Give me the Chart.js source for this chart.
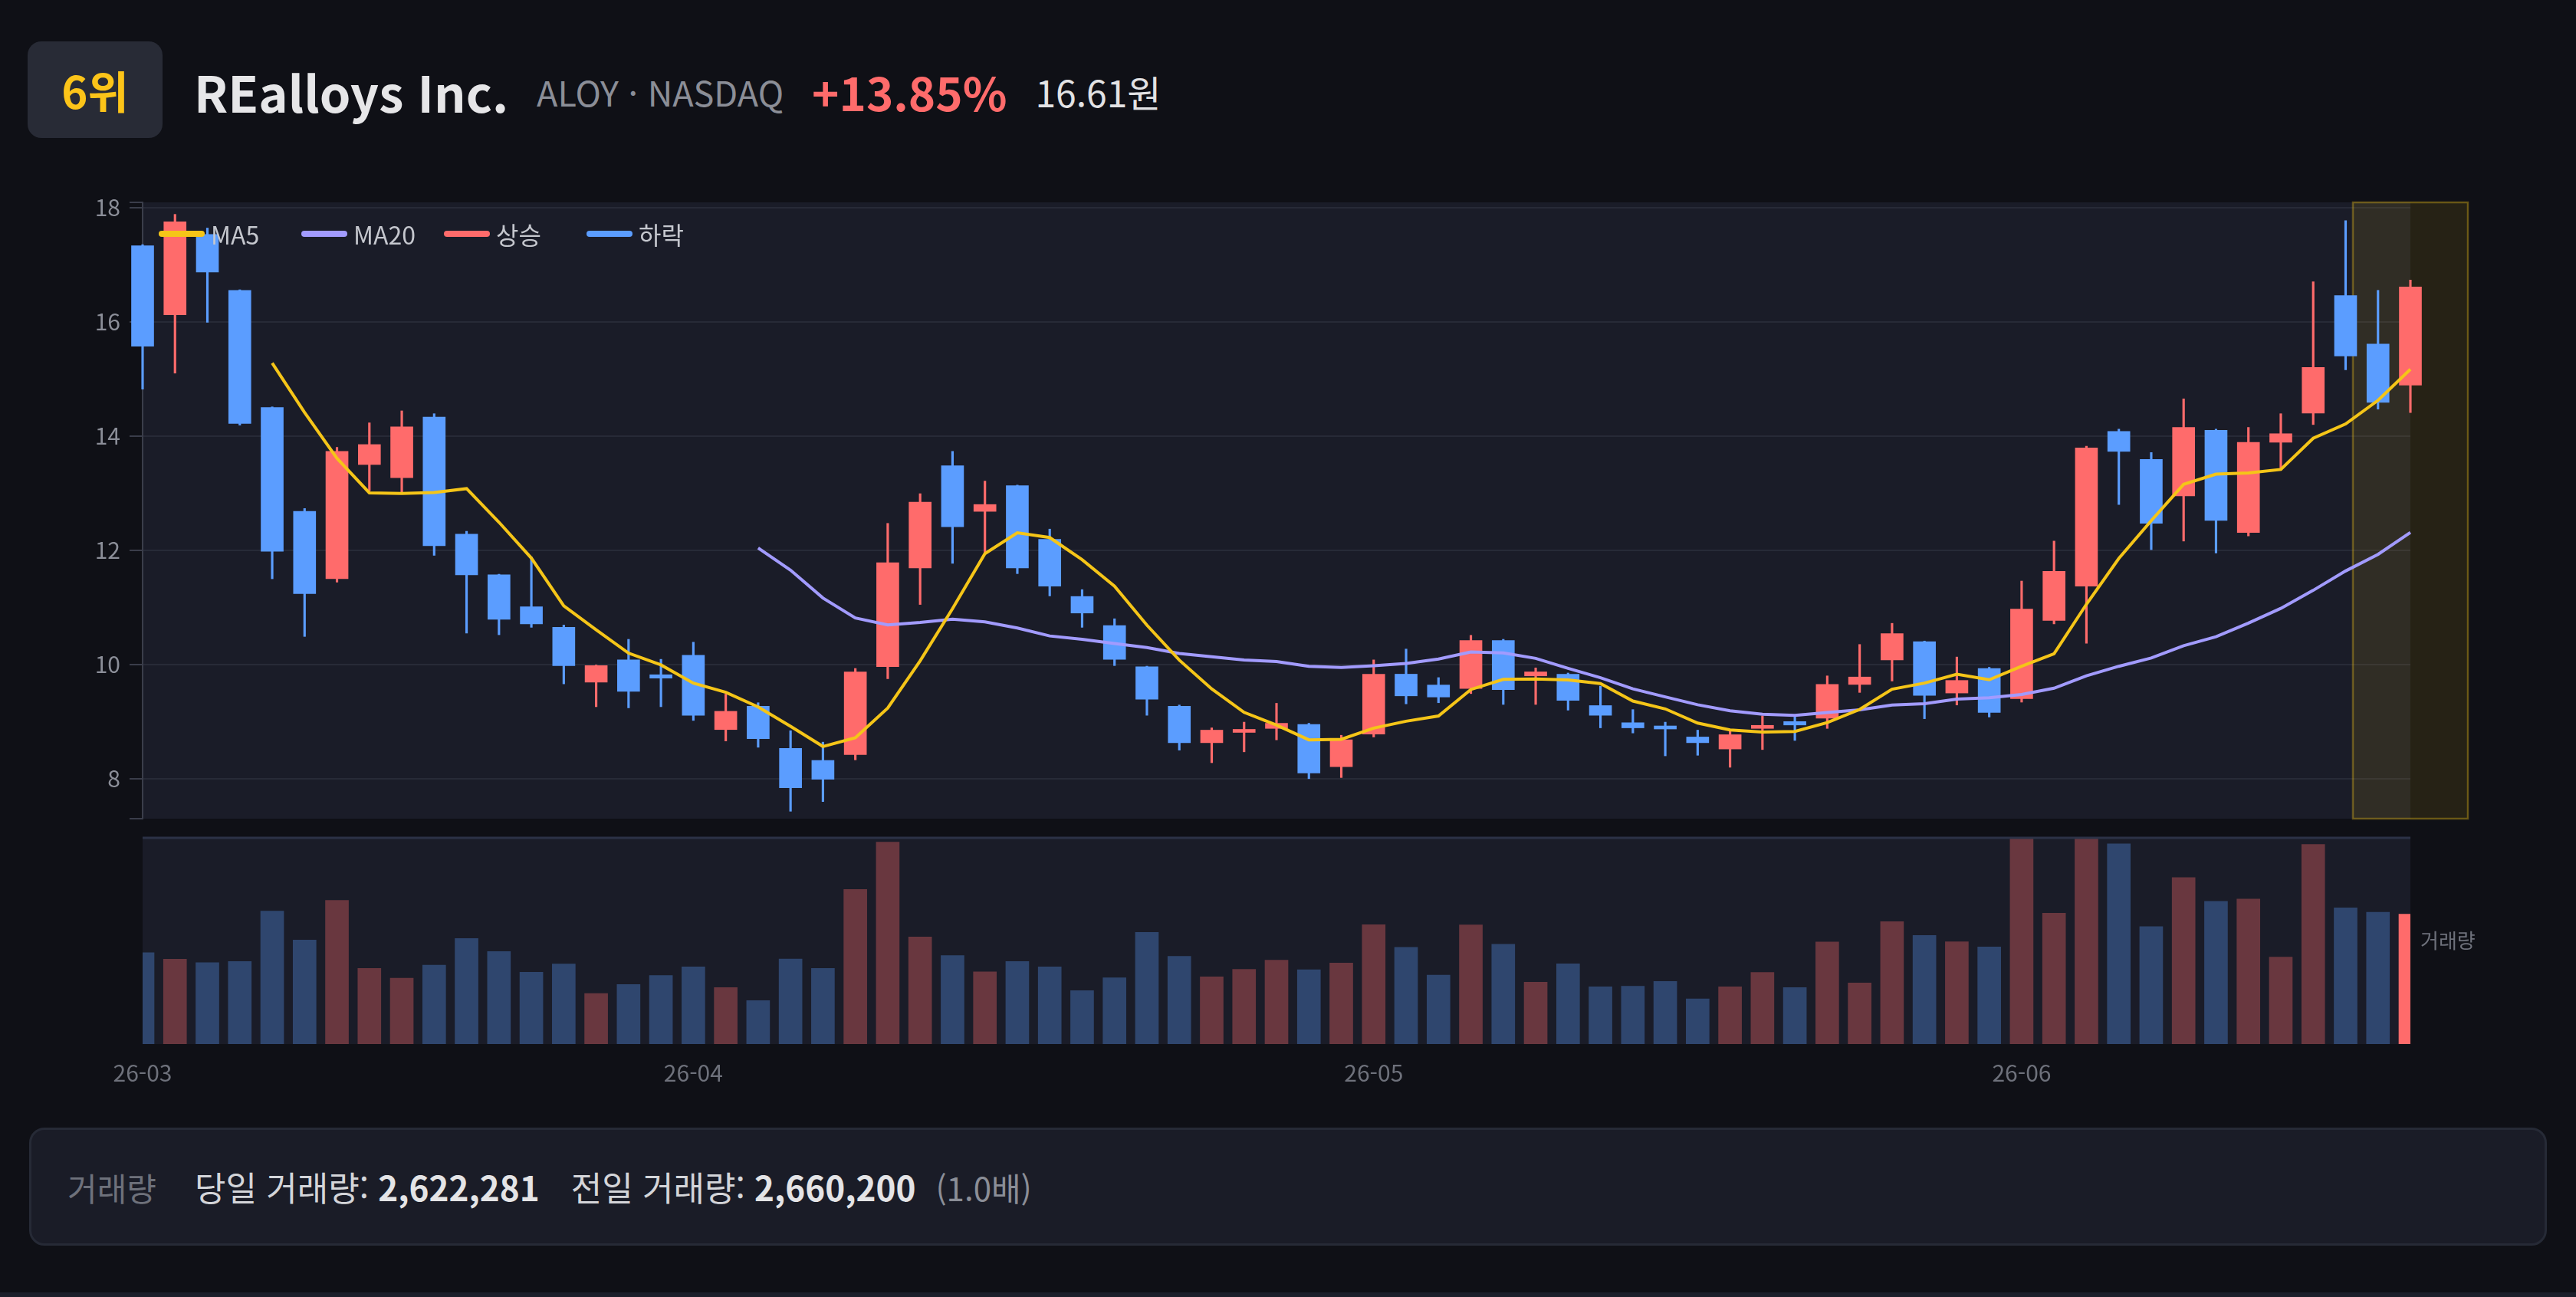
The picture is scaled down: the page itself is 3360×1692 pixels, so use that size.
<!DOCTYPE html>
<html lang="ko">
<head>
<meta charset="utf-8">
<title>REalloys Inc. 일봉 차트</title>
<script src="https://cdn.jsdelivr.net/npm/chart.js@4.4.1/dist/chart.umd.min.js"></script>
<style>
  html, body { margin: 0; padding: 0; background: #0f1016; }
  body {
    width: 3360px; height: 1692px; position: relative; overflow: hidden;
    font-family: "Noto Sans CJK KR", "Noto Sans", sans-serif;
  }
  .badge {
    position: absolute; left: 36px; top: 54px; width: 176px; height: 126px;
    border-radius: 18px; background: #282b36; color: #fcc419;
    font-size: 58px; font-weight: 700;
    display: flex; align-items: center; justify-content: center;
  }
  .head {
    position: absolute; left: 253px; top: 54px; height: 130px;
    display: flex; align-items: center; gap: 37px; line-height: 1; white-space: nowrap;
  }
  .title { font-size: 65px; font-weight: 700; color: #e6e6e8; }
  .ticker { font-size: 45px; color: #8b8e97; }
  .change { font-size: 60px; font-weight: 700; color: #ff6b6b; }
  .price { font-size: 48px; color: #e2e2e4; }
  canvas { position: absolute; left: 38px; }
  #priceChart { top: 246px; }
  #volumeChart { top: 1074px; }
  .legend {
    position: absolute; left: 207px; top: 284px; height: 42px;
    display: flex; align-items: center;
  }
  .legend .item { width: 186px; display: flex; align-items: center; font-size: 32px; color: #c5c7ce; }
  .legend .sw { width: 60px; height: 8px; border-radius: 4px; margin-right: 8px; }
  .footer {
    position: absolute; left: 38px; top: 1471px; width: 3284px; height: 154px;
    box-sizing: border-box; border: 3px solid #262a36; border-radius: 20px; background: #1a1c27;
    display: flex; align-items: center; padding-left: 47px;
    font-size: 44px; color: #d4d5d9; white-space: nowrap;
  }
  .footer .lbl { color: #6e717b; font-size: 42px; margin-right: 50px; }
  .footer b { font-weight: 700; color: #e4e4e6; }
  .footer .gap { display: inline-block; width: 41px; }
  .footer .ratio { color: #8b8e97; font-size: 42px; margin-left: 26px; }
  .strip { position: absolute; left: 0; top: 1686px; width: 3360px; height: 6px; background: #1c1f2b; }
</style>
</head>
<body>
<div class="badge">6위</div>
<div class="head">
  <span class="title">REalloys Inc.</span>
  <span class="ticker">ALOY · NASDAQ</span>
  <span class="change" id="change"></span>
  <span class="price" id="price"></span>
</div>

<canvas id="priceChart" width="3284" height="840"></canvas>
<div class="legend">
  <div class="item"><span class="sw" style="background:#f5c518"></span>MA5</div>
  <div class="item"><span class="sw" style="background:#a29bfe"></span>MA20</div>
  <div class="item"><span class="sw" style="background:#ff6b6b"></span>상승</div>
  <div class="item"><span class="sw" style="background:#5b9dff"></span>하락</div>
</div>
<canvas id="volumeChart" width="3284" height="344"></canvas>

<div class="footer" id="footer"></div>
<div class="strip"></div>

<script>
// trading days, 2026-03-09 .. 2026-06-17
const dates = [
  '2026-03-09', '2026-03-10', '2026-03-11', '2026-03-12', '2026-03-13', '2026-03-16', '2026-03-17', '2026-03-18',
  '2026-03-19', '2026-03-20', '2026-03-23', '2026-03-24', '2026-03-25', '2026-03-26', '2026-03-27', '2026-03-30',
  '2026-03-31', '2026-04-01', '2026-04-02', '2026-04-06', '2026-04-07', '2026-04-08', '2026-04-09', '2026-04-10',
  '2026-04-13', '2026-04-14', '2026-04-15', '2026-04-16', '2026-04-17', '2026-04-20', '2026-04-21', '2026-04-22',
  '2026-04-23', '2026-04-24', '2026-04-27', '2026-04-28', '2026-04-29', '2026-04-30', '2026-05-01', '2026-05-04',
  '2026-05-05', '2026-05-06', '2026-05-07', '2026-05-08', '2026-05-11', '2026-05-12', '2026-05-13', '2026-05-14',
  '2026-05-15', '2026-05-18', '2026-05-19', '2026-05-20', '2026-05-21', '2026-05-22', '2026-05-26', '2026-05-27',
  '2026-05-28', '2026-05-29', '2026-06-01', '2026-06-02', '2026-06-03', '2026-06-04', '2026-06-05', '2026-06-08',
  '2026-06-09', '2026-06-10', '2026-06-11', '2026-06-12', '2026-06-15', '2026-06-16', '2026-06-17'
];
const opens = [
  17.33, 16.12, 17.53, 16.55, 14.50, 12.68, 11.50, 13.50, 13.27, 14.33, 12.28, 11.57, 11.01, 10.65, 9.69, 10.08,
  9.82, 10.16, 8.86, 9.27, 8.53, 8.32, 8.42, 9.96, 11.69, 13.48, 12.68, 13.13, 12.19, 11.19, 10.68, 9.96,
  9.27, 8.63, 8.81, 8.88, 8.95, 8.21, 8.78, 9.83, 9.64, 9.58, 10.42, 9.80, 9.83, 9.28, 8.98, 8.89,
  8.73, 8.52, 8.88, 9.00, 9.06, 9.65, 10.08, 10.40, 9.50, 9.93, 9.40, 10.77, 11.37, 14.08, 13.59, 12.95,
  14.10, 12.31, 13.89, 14.40, 16.46, 15.61, 14.89
];
const highs = [
  17.35, 17.88, 17.64, 16.56, 14.51, 12.73, 13.80, 14.23, 14.44, 14.39, 12.33, 11.58, 11.88, 10.69, 9.99, 10.44,
  10.09, 10.39, 9.48, 9.33, 8.84, 8.64, 9.93, 12.47, 12.99, 13.73, 13.21, 13.14, 12.37, 11.31, 10.80, 9.97,
  9.29, 8.89, 8.99, 9.32, 8.97, 8.76, 10.08, 10.27, 9.77, 10.51, 10.44, 9.94, 9.85, 9.62, 9.21, 8.99,
  8.85, 8.84, 9.10, 9.08, 9.80, 10.35, 10.72, 10.41, 10.13, 9.95, 11.46, 12.16, 13.82, 14.12, 13.71, 14.65,
  14.12, 14.15, 14.39, 16.70, 17.77, 16.55, 16.73
];
const lows = [
  14.82, 15.10, 15.99, 14.19, 11.50, 10.49, 11.44, 13.04, 13.00, 11.91, 10.55, 10.52, 10.65, 9.66, 9.26, 9.24,
  9.26, 9.02, 8.66, 8.55, 7.43, 7.60, 8.33, 9.75, 11.05, 11.77, 11.95, 11.59, 11.20, 10.65, 9.98, 9.11,
  8.50, 8.28, 8.47, 8.68, 8.00, 8.02, 8.73, 9.31, 9.33, 9.49, 9.30, 9.30, 9.20, 8.89, 8.80, 8.40,
  8.41, 8.20, 8.51, 8.67, 8.88, 9.51, 9.71, 9.05, 9.29, 9.08, 9.34, 10.71, 10.37, 12.80, 12.01, 12.16,
  11.95, 12.25, 13.40, 14.20, 15.16, 14.47, 14.41
];
const closes = [
  15.57, 17.75, 16.87, 14.22, 11.98, 11.24, 13.73, 13.85, 14.16, 12.08, 11.57, 10.79, 10.71, 9.98, 9.98, 9.53,
  9.76, 9.11, 9.18, 8.70, 7.84, 7.99, 9.87, 11.78, 12.84, 12.41, 12.80, 11.69, 11.37, 10.90, 10.09, 9.39,
  8.63, 8.85, 8.85, 8.97, 8.10, 8.68, 9.83, 9.45, 9.43, 10.42, 9.56, 9.87, 9.37, 9.11, 8.89, 8.87,
  8.63, 8.77, 8.92, 8.94, 9.65, 9.78, 10.54, 9.46, 9.72, 9.16, 10.97, 11.63, 13.79, 13.73, 12.47, 14.15,
  12.52, 13.89, 14.04, 15.20, 15.40, 14.59, 16.61
];
const volumes = [
  1843000, 1714000, 1642000, 1668000, 2685000, 2101000, 2902000, 1528000, 1332000, 1595000, 2132000, 1869000,
  1451000, 1616000, 1022000, 1203000, 1384000, 1559000, 1141000, 878000, 1719000, 1528000, 3124000, 4079000,
  2163000, 1786000, 1456000, 1668000, 1559000, 1079000, 1337000, 2256000, 1771000, 1358000, 1508000, 1693000,
  1502000, 1637000, 2411000, 1952000, 1394000, 2406000, 2014000, 1249000, 1621000, 1157000, 1167000, 1265000,
  914000, 1157000, 1446000, 1141000, 2060000, 1234000, 2473000, 2194000, 2065000, 1962000, 5200000, 2643000,
  6800000, 4043000, 2370000, 3361000, 2881000, 2927000, 1755000, 4032000, 2752000, 2660200, 2622281
];
const priceTicks = [8, 10, 12, 14, 16, 18];
const priceMin = 7.3;
const priceMax = 18.09;
const volumeMax = 4180000;

const UP = '#ff6b6b';
const DOWN = '#5b9dff';
const last = closes.length - 1;

function movingAverage(values, n) {
  return values.map((v, i) => {
    if (i < n - 1) return null;
    let sum = 0;
    for (let k = i - n + 1; k <= i; k++) sum += values[k];
    return sum / n;
  });
}

// header + footer texts
const pct = (closes[last] / closes[last - 1] - 1) * 100;
document.getElementById('change').textContent = (pct >= 0 ? '+' : '') + pct.toFixed(2) + '%';
document.getElementById('price').textContent = closes[last].toFixed(2) + '원';
const fmt = (n) => n.toLocaleString('en-US');
document.getElementById('footer').innerHTML =
  '<span class="lbl">거래량</span>' +
  '<span>당일 거래량: <b>' + fmt(volumes[last]) + '</b></span><span class="gap"></span>' +
  '<span>전일 거래량: <b>' + fmt(volumes[last - 1]) + '</b></span>' +
  '<span class="ratio">(' + (volumes[last] / volumes[last - 1]).toFixed(1) + '배)</span>';

Chart.defaults.font.family = '"Noto Sans CJK KR", "Noto Sans", sans-serif';

const isUp = closes.map((c, i) => c >= opens[i]);
const candleColors = isUp.map((u) => (u ? UP : DOWN));

// plot area background
const plotBg = {
  id: 'plotBg',
  beforeDraw(chart) {
    const { ctx, chartArea: a } = chart;
    ctx.save();
    ctx.fillStyle = '#1a1c28';
    ctx.fillRect(a.left, a.top, a.right - a.left, a.bottom - a.top);
    ctx.restore();
  },
};

// box around the latest candle
const highlight = {
  id: 'highlight',
  beforeDatasetsDraw(chart) {
    const { ctx, chartArea: a, scales } = chart;
    const cx = scales.x.getPixelForValue(last);
    ctx.save();
    ctx.fillStyle = 'rgba(245, 197, 24, 0.1)';
    ctx.strokeStyle = 'rgba(245, 197, 24, 0.35)';
    ctx.lineWidth = 2.5;
    ctx.fillRect(cx - 75, a.top, 150, a.bottom - a.top);
    ctx.strokeRect(cx - 75, a.top, 150, a.bottom - a.top);
    ctx.restore();
  },
};

const volumeFrame = {
  id: 'volumeFrame',
  afterDatasetsDraw(chart) {
    const { ctx, chartArea: a } = chart;
    ctx.save();
    ctx.strokeStyle = '#2c3246';
    ctx.lineWidth = 3;
    ctx.beginPath();
    ctx.moveTo(a.left, a.top + 1);
    ctx.lineTo(a.right, a.top + 1);
    ctx.stroke();
    ctx.fillStyle = '#6e717b';
    ctx.font = '26px "Noto Sans CJK KR"';
    ctx.textBaseline = 'middle';
    ctx.fillText('거래량', a.right + 13, (a.top + a.bottom) / 2);
    ctx.restore();
  },
};

const priceChart = new Chart(document.getElementById('priceChart'), {
  type: 'bar',
  data: {
    labels: dates,
    datasets: [
      {
        type: 'line', label: 'MA5', data: movingAverage(closes, 5),
        borderColor: '#f5c518', borderWidth: 4, pointRadius: 0, tension: 0, order: 0,
      },
      {
        type: 'line', label: 'MA20', data: movingAverage(closes, 20),
        borderColor: '#a29bfe', borderWidth: 4, pointRadius: 0, tension: 0, order: 1,
      },
      {
        label: 'wick', data: lows.map((l, i) => [l, highs[i]]),
        backgroundColor: candleColors, barThickness: 2.5, grouped: false, order: 3, clip: false,
      },
      {
        label: 'body', data: opens.map((o, i) => [o, closes[i]]),
        backgroundColor: candleColors, barThickness: 29, minBarLength: 4, grouped: false, order: 2, clip: false,
      },
    ],
  },
  options: {
    responsive: false,
    animation: false,
    layout: { padding: { top: 18, bottom: 18, left: 0, right: 178 } },
    plugins: { legend: { display: false }, tooltip: { enabled: false } },
    scales: {
      x: { display: false, offset: false, grid: { display: false } },
      y: {
        min: priceMin,
        max: priceMax,
        afterBuildTicks: (scale) => {
          scale.ticks = [priceMin, ...priceTicks, priceMax].map((v) => ({ value: v }));
        },
        afterFit: (scale) => {
          scale.width = 148;
          scale.paddingTop = 0;
          scale.paddingBottom = 0;
        },
        ticks: {
          color: '#8b8e98',
          font: { size: 30 },
          padding: 12,
          callback: (v) => (priceTicks.includes(v) ? String(v) : ''),
        },
        grid: {
          color: (ctx) => (ctx.tick && priceTicks.includes(ctx.tick.value) ? '#272a37' : 'transparent'),
          lineWidth: 2,
          tickLength: 17,
          tickColor: '#3a3d4a',
        },
        border: { color: '#3a3d4a', width: 2 },
      },
    },
  },
  plugins: [plotBg, highlight],
});

const volumeChart = new Chart(document.getElementById('volumeChart'), {
  type: 'bar',
  data: {
    labels: dates,
    datasets: [
      {
        label: '거래량',
        data: volumes,
        backgroundColor: volumes.map((v, i) =>
          i === last ? UP : isUp[i] ? 'rgba(255, 107, 107, 0.35)' : 'rgba(91, 157, 255, 0.33)'),
        barThickness: 30,
        clip: 0,
      },
    ],
  },
  options: {
    responsive: false,
    animation: false,
    layout: { padding: { top: 18, bottom: 0, left: 0, right: 178 } },
    plugins: { legend: { display: false }, tooltip: { enabled: false } },
    scales: {
      x: {
        offset: false,
        grid: { display: false, drawTicks: false },
        border: { display: false },
        afterFit: (scale) => { scale.height = 56; },
        ticks: {
          autoSkip: false,
          maxRotation: 0,
          color: '#6e717b',
          font: { size: 30 },
          padding: 20,
          callback: (v, i) =>
            (i === 0 || dates[i].slice(0, 7) !== dates[i - 1].slice(0, 7)) ? dates[i].slice(2, 7) : '',
        },
      },
      y: {
        min: 0,
        max: volumeMax,
        afterFit: (scale) => {
          scale.width = 148;
          scale.paddingTop = 0;
          scale.paddingBottom = 0;
        },
        ticks: { display: false },
        grid: { display: false, drawTicks: false },
        border: { display: false },
      },
    },
  },
  plugins: [plotBg, volumeFrame],
});
</script>
</body>
</html>
